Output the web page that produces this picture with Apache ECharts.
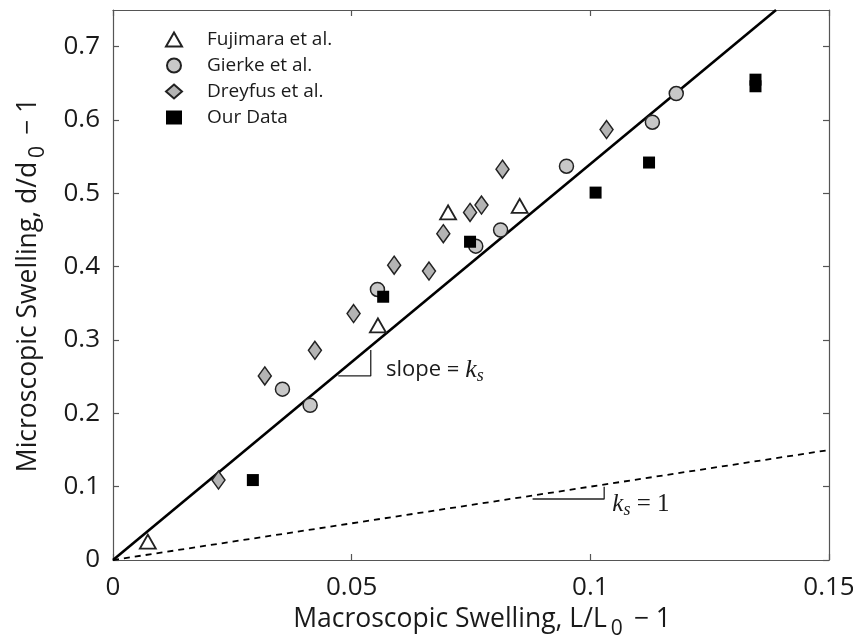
<!DOCTYPE html>
<html>
<head>
<meta charset="utf-8">
<script src="https://cdn.jsdelivr.net/npm/echarts@6/dist/echarts.min.js"></script>
<style>
  html, body { margin: 0; padding: 0; background: #fff; }
  #chart { width: 853px; height: 639px; }
</style>
</head>
<body>
<div id="chart"></div>
<script>
// Data
const fujX = [0.0073, 0.0555, 0.0702, 0.0852]
const fujY = [0.025, 0.320, 0.474, 0.483]
const gieX = [0.0355, 0.0413, 0.0554, 0.0760, 0.0812, 0.0950, 0.1130, 0.1180]
const gieY = [0.233, 0.211, 0.369, 0.428, 0.450, 0.537, 0.597, 0.636]
const dreX = [0.0221, 0.0318, 0.0423, 0.0504, 0.0589, 0.0662, 0.0692, 0.0748, 0.0772, 0.0816, 0.1034]
const dreY = [0.109, 0.251, 0.286, 0.336, 0.402, 0.394, 0.445, 0.474, 0.484, 0.533, 0.587]
const ourX = [0.0293, 0.0566, 0.0748, 0.1011, 0.1123, 0.1346, 0.1346]
const ourY = [0.109, 0.359, 0.434, 0.501, 0.542, 0.655, 0.646]

// Reference lines
const fitX = [0, 0.1389]
const fitY = [0, 0.75]
const unitX = [0, 0.15]
const unitY = [0, 0.15]

// Slope triangles (annotation)
const slopeTriX = [0.0472, 0.0540, 0.0540]
const slopeTriY = [0.251, 0.251, 0.2865]
const unitTriX = [0.0879, 0.1029, 0.1029]
const unitTriY = [0.0832, 0.0832, 0.1]

// Tick labels
const xTicks = [0, 0.05, 0.1, 0.15]
const yTicks = [0, 0.1, 0.2, 0.3, 0.4, 0.5, 0.6, 0.7]

const zip = (xs, ys) => xs.map((x, i) => [x, ys[i]])

const sansFont = '"Open Sans", "Noto Sans", sans-serif'
const serifFont = '"Liberation Serif", "DejaVu Serif", serif'
const axisColor = '#555'
const textColor = '#1a1a1a'

const chart = echarts.init(document.getElementById('chart'))

const baseAxis = {
    type: 'value',
    axisLine: { show: true, onZero: false, lineStyle: { color: axisColor, width: 1.2 } },
    axisTick: { show: true, inside: true, length: 6, lineStyle: { color: axisColor, width: 1.2 } },
    splitLine: { show: false }
}

const titleRich = {
    n: { fontFamily: sansFont, fontSize: 26.5, color: textColor },
    s: { fontFamily: sansFont, fontSize: 21, color: textColor, padding: [20, 4, 0, 4] }
}

const options = {
    animation: false,
    backgroundColor: '#fff',
    grid: { left: 113, right: 24, top: 10, bottom: 79, outerBoundsMode: 'none' },
    legend: {
        orient: 'vertical',
        left: 160,
        top: 25,
        itemWidth: 16,
        itemHeight: 14,
        itemGap: 7,
        textStyle: {
            fontFamily: sansFont, fontSize: 19, color: textColor,
            padding: [0, 0, 0, 20]
        },
        data: ['Fujimara et al.', 'Gierke et al.', 'Dreyfus et al.', 'Our Data']
    },
    xAxis: [
        {
            ...baseAxis,
            min: 0, max: 0.15, interval: 0.05,
            axisTick: { ...baseAxis.axisTick, customValues: xTicks },
            axisLabel: {
                customValues: xTicks, margin: 15,
                fontFamily: sansFont, fontSize: 26, color: textColor
            },
            name: '{n|Macroscopic Swelling, L/L}{s|0}{n| − 1}',
            nameLocation: 'middle',
            nameGap: 35,
            nameTextStyle: { rich: titleRich, padding: [0, 0, 0, 22] }
        },
        {
            ...baseAxis,
            position: 'top',
            min: 0, max: 0.15, interval: 0.05,
            axisTick: { ...baseAxis.axisTick, customValues: xTicks },
            axisLabel: { show: false }
        }
    ],
    yAxis: [
        {
            ...baseAxis,
            min: 0, max: 0.75, interval: 0.1,
            axisTick: { ...baseAxis.axisTick, customValues: yTicks },
            axisLabel: {
                customValues: yTicks, margin: 13,
                fontFamily: sansFont, fontSize: 26, color: textColor
            },
            name: '{n|Microscopic Swelling, d/d}{s|0}{n| − 1}',
            nameLocation: 'middle',
            nameGap: 64,
            nameTextStyle: { rich: titleRich }
        },
        {
            ...baseAxis,
            position: 'right',
            min: 0, max: 0.75, interval: 0.1,
            axisTick: { ...baseAxis.axisTick, customValues: yTicks },
            axisLabel: { show: false }
        }
    ],
    series: [
        {
            name: 'fit', type: 'line', data: zip(fitX, fitY), symbol: 'none', z: 3,
            lineStyle: { color: '#000', width: 2.6 }
        },
        {
            name: 'unit', type: 'line', data: zip(unitX, unitY), symbol: 'none', z: 3,
            lineStyle: { color: '#000', width: 1.8, type: [6, 5] }
        },
        {
            name: 'slopeTri', type: 'line', data: zip(slopeTriX, slopeTriY), symbol: 'none', z: 3,
            lineStyle: { color: '#222', width: 1.3 }
        },
        {
            name: 'unitTri', type: 'line', data: zip(unitTriX, unitTriY), symbol: 'none', z: 3,
            lineStyle: { color: '#222', width: 1.3 }
        },
        {
            name: 'Fujimara et al.', type: 'scatter', data: zip(fujX, fujY), z: 4,
            symbol: 'triangle', symbolSize: [16, 14],
            itemStyle: { color: '#fff', borderColor: '#222', borderWidth: 1.8, opacity: 1 }
        },
        {
            name: 'Gierke et al.', type: 'scatter', data: zip(gieX, gieY), z: 4,
            symbol: 'circle', symbolSize: 14,
            itemStyle: { color: '#c8c8c8', borderColor: '#222', borderWidth: 1.5, opacity: 1 }
        },
        {
            name: 'Dreyfus et al.', type: 'scatter', data: zip(dreX, dreY), z: 4,
            symbol: 'diamond', symbolSize: [13, 18],
            itemStyle: { color: '#b4b4b4', borderColor: '#222', borderWidth: 1.5, opacity: 1 }
        },
        {
            name: 'Our Data', type: 'scatter', data: zip(ourX, ourY), z: 4,
            symbol: 'rect', symbolSize: 12,
            itemStyle: { color: '#000', borderColor: '#000', borderWidth: 0, opacity: 1 }
        }
    ]
}
chart.setOption(options)

// Annotation text, placed in data coordinates
const slopePos = chart.convertToPixel({ xAxisIndex: 0, yAxisIndex: 0 }, [0.0572, 0.259])
const unitPos = chart.convertToPixel({ xAxisIndex: 0, yAxisIndex: 0 }, [0.1046, 0.076])
chart.setOption({
    graphic: [
        {
            type: 'text', x: slopePos[0], y: slopePos[1], z: 10,
            style: {
                text: '{n|slope = }{k|k}{s|s}',
                verticalAlign: 'middle',
                rich: {
                    n: { fontFamily: sansFont, fontSize: 22, fill: textColor },
                    k: { fontFamily: serifFont, fontStyle: 'italic', fontSize: 26, fill: textColor },
                    s: { fontFamily: serifFont, fontStyle: 'italic', fontSize: 18, fill: textColor, padding: [12, 0, 0, 0] }
                }
            }
        },
        {
            type: 'text', x: unitPos[0], y: unitPos[1], z: 10,
            style: {
                text: '{k|k}{s|s}{n| = 1}',
                verticalAlign: 'middle',
                rich: {
                    n: { fontFamily: serifFont, fontSize: 25, fill: textColor },
                    k: { fontFamily: serifFont, fontStyle: 'italic', fontSize: 25, fill: textColor },
                    s: { fontFamily: serifFont, fontStyle: 'italic', fontSize: 18, fill: textColor, padding: [12, 0, 0, 0] }
                }
            }
        }
    ]
})
</script>
</body>
</html>
